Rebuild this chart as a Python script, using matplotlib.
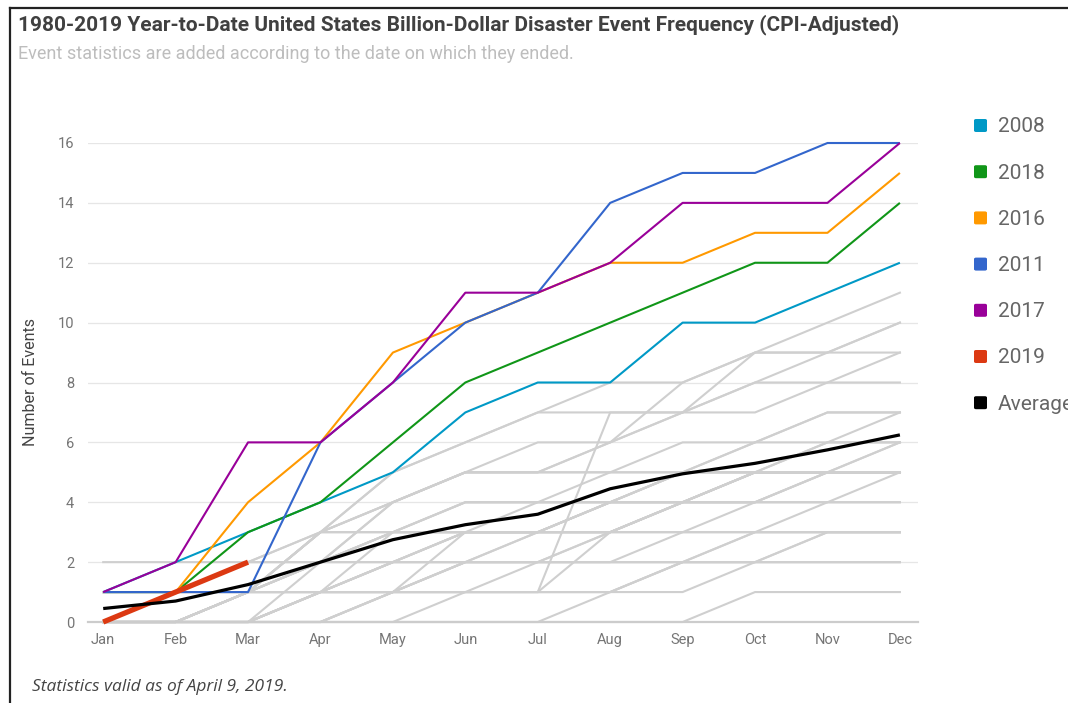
#!/usr/bin/env python3
"""Year-to-date count of US billion-dollar disaster events, 1980-2019."""
import matplotlib
matplotlib.use("Agg")
import matplotlib.pyplot as plt
from matplotlib.lines import Line2D
from matplotlib.patches import FancyBboxPatch

months = ["Jan", "Feb", "Mar", "Apr", "May", "Jun",
          "Jul", "Aug", "Sep", "Oct", "Nov", "Dec"]

# cumulative events per month for the highlighted years
y2008 = [1, 2, 3, 4, 5, 7, 8, 8, 10, 10, 11, 12]
y2018 = [1, 1, 3, 4, 6, 8, 9, 10, 11, 12, 12, 14]
y2016 = [0, 1, 4, 6, 9, 10, 11, 12, 12, 13, 13, 15]
y2011 = [1, 1, 1, 6, 8, 10, 11, 14, 15, 15, 16, 16]
y2017 = [1, 2, 6, 6, 8, 11, 11, 12, 14, 14, 14, 16]
y2019 = [0, 1, 2]
average = [0.45, 0.7, 1.25, 2.0, 2.75, 3.25, 3.6, 4.45, 4.95, 5.3, 5.75, 6.25]

# remaining years, drawn in grey behind the highlighted ones
other_years = [
    [0, 0, 1, 3, 3, 3, 3, 3, 3, 3, 3, 3],
    [0, 0, 0, 1, 2, 2, 2, 2, 2, 2, 2, 2],
    [0, 0, 0, 0, 1, 2, 2, 2, 2, 3, 3, 3],
    [2, 2, 2, 2, 3, 3, 3, 4, 4, 5, 5, 5],
    [0, 0, 0, 0, 0, 0, 0, 1, 2, 2, 2, 2],
    [0, 0, 1, 1, 2, 3, 3, 4, 5, 5, 5, 6],
    [0, 0, 0, 0, 0, 1, 1, 1, 2, 2, 3, 3],
    [0, 0, 0, 0, 0, 0, 0, 0, 0, 1, 1, 1],
    [0, 0, 0, 0, 1, 1, 1, 1, 1, 2, 2, 2],
    [0, 0, 1, 1, 2, 2, 2, 2, 3, 4, 5, 5],
    [1, 1, 1, 1, 1, 1, 2, 2, 2, 3, 3, 3],
    [0, 0, 1, 2, 2, 2, 3, 3, 3, 3, 4, 4],
    [0, 0, 0, 1, 2, 3, 3, 4, 4, 5, 6, 6],
    [0, 0, 1, 2, 3, 3, 4, 4, 5, 5, 5, 5],
    [1, 1, 2, 2, 3, 4, 4, 5, 5, 5, 6, 6],
    [0, 0, 0, 1, 1, 3, 3, 3, 4, 5, 5, 5],
    [1, 1, 1, 1, 1, 2, 2, 3, 4, 4, 4, 5],
    [1, 1, 1, 3, 3, 3, 3, 3, 4, 4, 5, 5],
    [0, 0, 1, 3, 4, 5, 5, 6, 8, 9, 9, 10],
    [0, 0, 0, 1, 3, 4, 4, 4, 4, 5, 5, 6],
    [0, 0, 0, 1, 1, 2, 2, 3, 4, 4, 4, 4],
    [0, 0, 0, 0, 1, 1, 1, 1, 2, 2, 3, 3],
    [0, 0, 0, 1, 2, 3, 3, 3, 4, 4, 5, 5],
    [0, 0, 0, 2, 4, 5, 5, 5, 5, 6, 6, 7],
    [0, 0, 0, 0, 1, 1, 1, 3, 4, 5, 5, 5],
    [0, 0, 1, 1, 1, 2, 3, 4, 5, 6, 7, 7],
    [0, 0, 1, 2, 4, 5, 5, 5, 6, 6, 7, 7],
    [1, 1, 1, 2, 2, 3, 3, 4, 4, 5, 5, 5],
    [1, 1, 2, 3, 4, 5, 5, 6, 7, 7, 8, 9],
    [1, 1, 1, 2, 3, 4, 4, 4, 5, 5, 5, 5],
    [0, 0, 1, 3, 5, 6, 7, 8, 8, 9, 10, 11],
    [0, 0, 1, 3, 4, 5, 6, 6, 7, 9, 9, 9],
    [1, 1, 2, 3, 5, 6, 7, 7, 7, 8, 8, 8],
    [0, 0, 0, 1, 1, 1, 1, 7, 7, 8, 9, 10],
]

series = [
    ("2008", y2008, "#0099c6", 1.5),
    ("2018", y2018, "#109618", 1.5),
    ("2016", y2016, "#ff9900", 1.5),
    ("2011", y2011, "#3366cc", 1.5),
    ("2017", y2017, "#990099", 1.5),
    ("2019", y2019, "#dc3912", 3.8),
    ("Average", average, "#000000", 2.3),
]

plt.rcParams["font.family"] = ["Roboto", "DejaVu Sans"]

W, H = 1068, 703
fig = plt.figure(figsize=(W / 100, H / 100), dpi=100)
ax = fig.add_axes([88 / W, 1 - 622 / H, (918 - 88) / W, (622 - 143) / H])

x = list(range(len(months)))
for ys in other_years:
    ax.plot(x, ys, color="#cfcfcf", lw=1.5, solid_joinstyle="miter",
            clip_on=False, zorder=2)
for name, ys, color, lw in series:
    ax.plot(x[:len(ys)], ys, color=color, lw=lw, clip_on=False, zorder=3,
            solid_capstyle="butt")

ax.set_xlim(-0.21, 11.25)
ax.set_ylim(0, 16)
ax.set_yticks(range(0, 17, 2))
ax.set_xticks(x)
ax.set_xticklabels(months)
ax.grid(axis="y", color="#e6e6e6", lw=0.9)
ax.set_axisbelow(True)
for side in ("top", "right", "left"):
    ax.spines[side].set_visible(False)
ax.spines["bottom"].set_color("#cccccc")
ax.spines["bottom"].set_linewidth(1.6)
ax.tick_params(length=0, colors="#757575", labelsize=10.5)
ax.tick_params(axis="x", pad=8)
ax.tick_params(axis="y", pad=10)
ax.set_ylabel("Number of Events", fontsize=11.5, color="#444444", labelpad=14)

fig.text(18 / W, 1 - 25 / H, "1980-2019 Year-to-Date United States Billion-Dollar "
         "Disaster Event Frequency (CPI-Adjusted)", fontsize=15, fontweight="bold",
         color="#404040", va="center")
fig.text(18 / W, 1 - 54 / H, "Event statistics are added according to the date "
         "on which they ended.", fontsize=13, color="#bdbdbd", va="center")
fig.text(32 / W, 1 - 687 / H, "Statistics valid as of April 9, 2019.",
         fontsize=12.5, style="italic", color="#444444", va="center",
         family=["Open Sans", "Noto Sans", "DejaVu Sans"])

# legend down the right-hand side
for i, (name, ys, color, lw) in enumerate(series):
    yc = 1 - (126 + 46.2 * i) / H
    box = FancyBboxPatch((974 / W, yc - 6 / H), 13 / W, 13 / H,
                         boxstyle="round,pad=0,rounding_size=0.002",
                         transform=fig.transFigure, facecolor=color,
                         edgecolor="none")
    fig.patches.append(box)
    fig.text(998 / W, yc - 1 / H, name, fontsize=15, color="#666666", va="center")

# outer frame along the top and left edges
fig.add_artist(Line2D([10 / W, 1], [1 - 8 / H, 1 - 8 / H], color="#222222",
                      lw=1.6, transform=fig.transFigure))
fig.add_artist(Line2D([10 / W, 10 / W], [0, 1 - 8 / H], color="#222222",
                      lw=1.6, transform=fig.transFigure))

fig.savefig("out.png", dpi=100, facecolor="white")
